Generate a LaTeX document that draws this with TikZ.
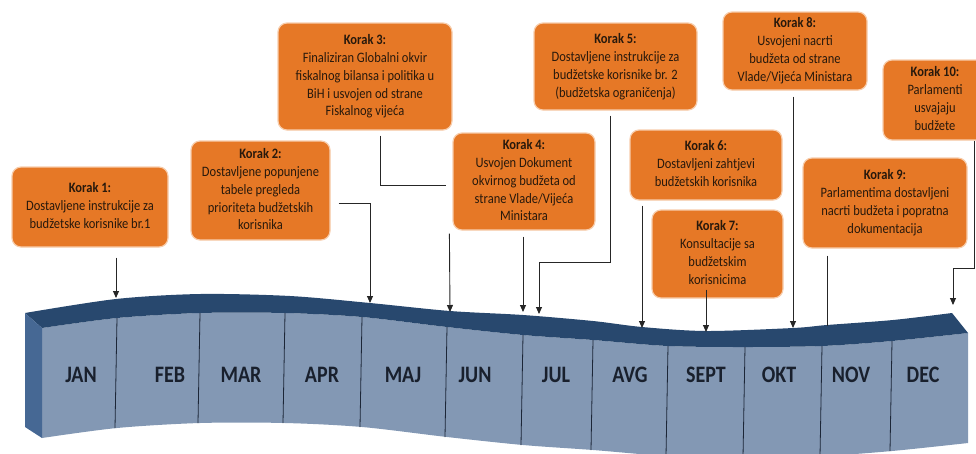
\documentclass[tikz,border=0pt]{standalone}
\usepackage{fontspec}
\setmainfont{Carlito}
\usetikzlibrary{arrows.meta}
\definecolor{korange}{RGB}{230,120,38}
\definecolor{kglow}{RGB}{247,205,172}
\definecolor{ktext}{RGB}{40,25,12}
\definecolor{btop}{RGB}{40,72,110}
\definecolor{bfront}{RGB}{131,152,180}
\definecolor{bside}{RGB}{70,104,148}
\definecolor{bline}{RGB}{28,38,55}
\definecolor{mtext}{RGB}{25,32,45}
\newcommand\mlab[1]{\scalebox{1}[1.18]{#1}}
\newcommand\ktext[1]{\scalebox{1}[1.15]{\begin{tabular}{@{}c@{}}#1\end{tabular}}}
\begin{document}
\begin{tikzpicture}[x=1pt,y=-1pt,
  kbox/.style={rectangle, rounded corners=9pt, fill=korange, draw=kglow, line width=1.2pt,
    text=ktext, align=center, inner sep=0pt, font=\fontsize{12.5}{15.6}\selectfont},
  conn/.style={draw=black!85, line width=0.9pt},
  arr/.style={conn, -{Triangle[width=6pt,length=7pt]}},
  month/.style={font=\fontsize{20}{22}\bfseries\selectfont, text=mtext, inner sep=0pt},
  sep/.style={draw=bline, line width=0.8pt}]
\useasboundingbox (0,0) rectangle (976,453);
\clip (0,0) rectangle (976,453);

% timeline band
\fill[bfront] plot[smooth] coordinates {(42,328) (117,318) (200,313) (285,313) (362,317) (447,327) (523,335) (593,340) (668,346) (745,347) (822,346) (892,341) (968,333)}
  -- (968,443)
  -- plot[smooth] coordinates {(968,443) (892,451) (822,456) (745,457) (668,456) (593,450) (523,445) (447,437) (362,427) (285,423) (200,423) (117,428) (42,438)}
  -- cycle;
\fill[btop] plot[smooth] coordinates {(25,313) (116,299) (200,294) (290,296) (370,303) (450,311) (523,315) (593,321) (642,327) (706,331) (793,328) (827,325) (893,320) (952,313)}
  -- (968,333)
  -- plot[smooth] coordinates {(968,333) (892,341) (822,346) (745,347) (668,346) (593,340) (523,335) (447,327) (362,317) (285,313) (200,313) (117,318) (42,328)}
  -- cycle;
\fill[bside] (25,313) -- (42,328) -- (42,438) -- (25,427) -- cycle;
\foreach \x/\y in {117/318, 200/313, 285/313, 362/317, 447/327, 523/335, 593/340, 668/346, 745/347, 822/346, 892/341}
  \draw[sep] (\x,\y) -- ({\x-2},{\y+110});

% months
\node[month] (m1) at (81,375) {\mlab{JAN}};
\node[month] (m2) at (170,375) {\mlab{FEB}};
\node[month] (m3) at (241,375) {\mlab{MAR}};
\node[month] (m4) at (322,375) {\mlab{APR}};
\node[month] (m5) at (403,375) {\mlab{MAJ}};
\node[month] (m6) at (475,375) {\mlab{JUN}};
\node[month] (m7) at (556,375) {\mlab{JUL}};
\node[month] (m8) at (630,375) {\mlab{AVG}};
\node[month] (m9) at (706,375) {\mlab{SEPT}};
\node[month] (m10) at (779,375) {\mlab{OKT}};
\node[month] (m11) at (851,375) {\mlab{NOV}};
\node[month] (m12) at (923,375) {\mlab{DEC}};

% boxes
\node[kbox, minimum width=156pt, minimum height=80pt] (k1) at (90,207)
  {\ktext{\textbf{Korak 1:}\\Dostavljene instrukcije za\\budžetske korisnike br.1}};
\node[kbox, minimum width=139pt, minimum height=99pt] (k2) at (260.5,190.5)
  {\ktext{\textbf{Korak 2:}\\Dostavljene popunjene\\tabele pregleda\\prioriteta budžetskih\\korisnika}};
\node[kbox, minimum width=174pt, minimum height=107pt] (k3) at (365,76.5)
  {\ktext{\textbf{Korak 3:}\\Finaliziran Globalni okvir\\fiskalnog bilansa i politika u\\BiH i usvojen od strane\\Fiskalnog vijeća}};
\node[kbox, minimum width=142pt, minimum height=97pt] (k4) at (524,181.5)
  {\ktext{\textbf{Korak 4:}\\Usvojen Dokument\\okvirnog budžeta od\\strane Vlade/Vijeća\\Ministara}};
\node[kbox, minimum width=163pt, minimum height=87pt] (k5) at (615.5,66.5)
  {\ktext{\textbf{Korak 5:}\\Dostavljene instrukcije za\\budžetske korisnike br. 2\\(budžetska ograničenja)}};
\node[kbox, minimum width=152pt, minimum height=70pt] (k6) at (706,165)
  {\ktext{\textbf{Korak 6:}\\Dostavljeni zahtjevi\\budžetskih korisnika}};
\node[kbox, minimum width=131pt, minimum height=88pt] (k7) at (717.5,254)
  {\ktext{\textbf{Korak 7:}\\Konsultacije sa\\budžetskim\\korisnicima}};
\node[kbox, minimum width=144pt, minimum height=78pt] (k8) at (795,51)
  {\ktext{\textbf{Korak 8:}\\Usvojeni nacrti\\budžeta od strane\\Vlade/Vijeća Ministara}};
\node[kbox, minimum width=164pt, minimum height=90pt] (k9) at (885,203)
  {\ktext{\textbf{Korak 9:}\\Parlamentima dostavljeni\\nacrti budžeta i popratna\\dokumentacija}};
\node[kbox, minimum width=104pt, minimum height=80pt] (k10) at (935,100)
  {\ktext{\textbf{Korak 10:}\\Parlamenti\\usvajaju\\budžete}};

% connector points
\coordinate (t1) at (116,298);
\coordinate (t2) at (370,303);
\coordinate (t3) at (450,312);
\coordinate (t4) at (523,312);
\coordinate (b5) at (610,262);
\coordinate (t5) at (539,314);
\coordinate (t6) at (642,328);
\coordinate (s7) at ([yshift=9pt]k7.south);
\coordinate (t7) at (706,332);
\coordinate (t8) at (793,328);
\coordinate (t9) at (827,326);
\coordinate (b10) at (974,268);
\coordinate (t10) at (953,305);

% connectors
\draw[arr, shorten <=10pt] (k1.south -| t1) -- (t1);
\draw[arr] ([xshift=8pt,yshift=-13pt]k2.east) -| (t2);
\draw[conn] ([xshift=15pt,yshift=-5pt]k3.south) |- ([xshift=-6pt,yshift=-3.5pt]k4.west);
\draw[arr] ([xshift=-3pt,yshift=-3pt]k4.south west) -- (t3);
\draw[arr, shorten <=6pt] (k4.south -| t4) -- (t4);
\draw[arr, shorten <=5pt] (k5.south -| b5) -- (b5) -| (t5);
\draw[arr, shorten <=5pt] (k6.south -| t6) -- (t6);
\draw[arr] (s7 -| t7) -- (t7);
\draw[arr, shorten <=6pt] (k8.south -| t8) -- (t8);
\draw[conn, shorten <=7pt] (k9.south -| t9) -- (t9);
\draw[arr] (k10.south -| b10) -- (b10) -| (t10);
\end{tikzpicture}
\end{document}
